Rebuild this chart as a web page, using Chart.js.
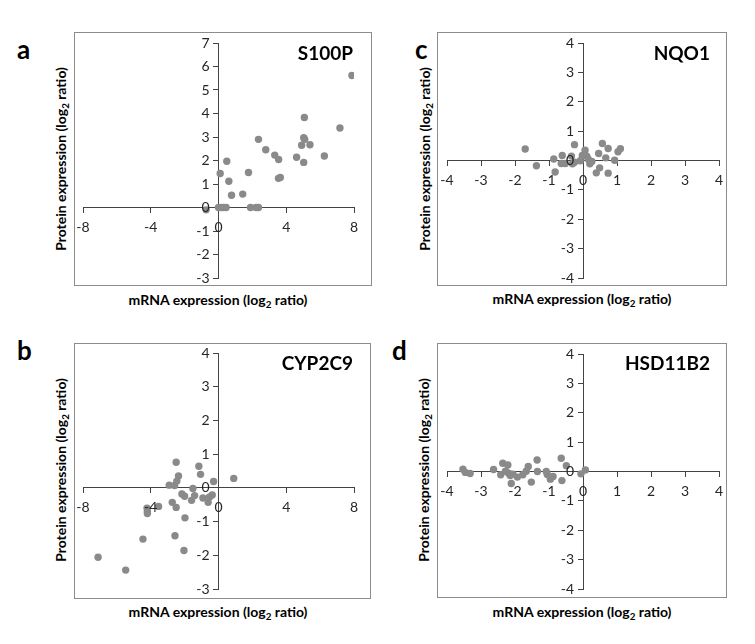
<!DOCTYPE html>
<html>
<head>
<meta charset="utf-8">
<script src="https://cdn.jsdelivr.net/npm/chart.js@4.4.0/dist/chart.umd.min.js"></script>
<style>
  body { margin: 0; background: #fff; width: 755px; height: 644px; position: relative; overflow: hidden; font-family: Lato, "Open Sans", sans-serif; color: #000; }
  .box { position: absolute; border: 1px solid #8c8c8c; box-sizing: border-box; }
  .box canvas { display: block; }
  .letter { position: absolute; font-weight: bold; font-size: 26px; line-height: 1; }
  .gene { position: absolute; font-weight: bold; font-size: 19px; line-height: 1; transform: translateY(-50%); white-space: nowrap; }
  .xt { position: absolute; font-weight: bold; font-size: 14px; white-space: nowrap; transform: translate(-50%, -50%); }
  .yt { position: absolute; font-weight: bold; font-size: 14px; white-space: nowrap; transform: translate(-50%, -50%) rotate(-90deg); }
  sub { font-size: 70%; line-height: 0; }
</style>
</head>
<body>

<div class="letter" style="left:17px;top:36px">a</div>
<div class="letter" style="left:415px;top:36px">c</div>
<div class="letter" style="left:17px;top:337px">b</div>
<div class="letter" style="left:392px;top:337px">d</div>

<div class="box" style="left:74px;top:32px;width:298px;height:254px"><canvas id="chartA" width="296" height="252"></canvas></div>
<div class="box" style="left:74px;top:343px;width:297px;height:256px"><canvas id="chartB" width="295" height="254"></canvas></div>
<div class="box" style="left:437px;top:32px;width:290px;height:254px"><canvas id="chartC" width="288" height="252"></canvas></div>
<div class="box" style="left:437px;top:343px;width:290px;height:255px"><canvas id="chartD" width="288" height="253"></canvas></div>

<div class="gene" style="right:402px;top:52px">S100P</div>
<div class="gene" style="right:45px;top:52px">NQO1</div>
<div class="gene" style="right:402px;top:362px">CYP2C9</div>
<div class="gene" style="right:45px;top:362px">HSD11B2</div>

<div class="yt" style="left:60px;top:159px">Protein expression (log<sub>2</sub> ratio)</div>
<div class="yt" style="left:424px;top:159px">Protein expression (log<sub>2</sub> ratio)</div>
<div class="yt" style="left:60px;top:470px">Protein expression (log<sub>2</sub> ratio)</div>
<div class="yt" style="left:423px;top:470px">Protein expression (log<sub>2</sub> ratio)</div>

<div class="xt" style="left:218px;top:299px">mRNA expression (log<sub>2</sub> ratio)</div>
<div class="xt" style="left:582px;top:298px">mRNA expression (log<sub>2</sub> ratio)</div>
<div class="xt" style="left:218px;top:611px">mRNA expression (log<sub>2</sub> ratio)</div>
<div class="xt" style="left:582px;top:611px">mRNA expression (log<sub>2</sub> ratio)</div>

<script>
// S100P (panel a)
const s100pMrna =    [-0.73, 0.0, 0.15, 0.3, 0.45, 0.1, 0.49, 0.61, 0.77, 1.43, 1.77, 1.89, 2.22, 2.36, 2.36, 2.79, 3.32, 3.55, 3.54, 3.65, 4.61, 4.91, 5.03, 5.07, 5.03, 5.09, 5.4, 6.25, 7.17, 7.88];
const s100pProtein = [-0.1, 0.0, 0.0, 0.0, 0.0, 1.45, 1.97, 1.12, 0.52, 0.57, 1.49, 0.0, 0.0, 0.0, 2.9, 2.46, 2.23, 2.04, 1.24, 1.28, 2.14, 2.65, 1.92, 3.83, 2.97, 2.9, 2.67, 2.19, 3.38, 5.62];

// CYP2C9 (panel b)
const cyp2c9Mrna =    [-7.11, -5.48, -4.46, -4.22, -4.2, -4.2, -3.54, -2.91, -2.73, -2.57, -2.5, -2.5, -2.59, -2.46, -2.36, -2.16, -2.0, -1.98, -2.04, -1.59, -1.51, -1.41, -1.16, -1.06, -0.92, -0.61, -0.53, -0.37, -0.29, 0.9];
const cyp2c9Protein = [-2.06, -2.44, -1.52, -0.6, -0.7, -0.76, -0.55, 0.08, -0.43, -1.42, 0.76, -0.58, 0.07, 0.2, 0.35, -0.18, -0.25, -0.89, -1.86, -0.37, -0.02, -0.23, 0.64, 0.4, -0.3, -0.43, -0.27, -0.21, 0.19, 0.28];

// NQO1 (panel c)
const nqo1Mrna =    [-1.7, -1.37, -0.86, -0.82, -0.64, -0.61, -0.52, -0.34, -0.31, -0.25, -0.25, -0.08, -0.02, 0.06, 0.11, 0.2, 0.26, 0.15, 0.39, 0.46, 0.49, 0.57, 0.67, 0.74, 0.74, 0.93, 1.03, 1.1];
const nqo1Protein = [0.39, -0.18, 0.05, -0.39, -0.1, 0.17, -0.1, 0.15, -0.11, 0.54, -0.06, -0.01, 0.17, 0.35, 0.15, -0.11, -0.03, 0.05, -0.42, 0.24, -0.25, 0.58, 0.09, 0.41, -0.43, 0.01, 0.3, 0.4];

// HSD11B2 (panel d)
const hsd11b2Mrna =    [-3.53, -3.46, -3.32, -2.63, -2.42, -2.36, -2.28, -2.21, -2.19, -2.14, -2.11, -2.06, -1.93, -1.77, -1.67, -1.61, -1.52, -1.35, -1.34, -1.08, -1.05, -0.96, -0.88, -0.64, -0.62, -0.49, -0.06, 0.07];
const hsd11b2Protein = [0.08, -0.03, -0.07, 0.07, -0.11, 0.28, 0.01, 0.22, -0.06, -0.14, -0.41, -0.09, -0.19, -0.11, 0.01, 0.17, -0.36, 0.39, 0.0, 0.0, -0.1, -0.26, -0.17, 0.45, -0.31, 0.2, -0.08, 0.05];

const axisColor = '#444444';
const labelColor = '#262626';
const pointColor = '#8a8a8a';

// tick labels sit next to the crossing axes, like the Excel original
const crossLabels = {
  id: 'crossLabels',
  afterDraw(chart) {
    const ctx = chart.ctx;
    const xs = chart.scales.x, ys = chart.scales.y;
    const x0 = xs.getPixelForValue(0), y0 = ys.getPixelForValue(0);
    ctx.save();
    ctx.fillStyle = labelColor;
    ctx.font = '14px Lato';
    ctx.textAlign = 'center';
    ctx.textBaseline = 'middle';
    xs.ticks.forEach(t => ctx.fillText(String(t.value), xs.getPixelForValue(t.value), y0 + 20));
    ctx.textAlign = 'right';
    ys.ticks.forEach(t => ctx.fillText(String(t.value), x0 - 9, ys.getPixelForValue(t.value)));
    ctx.restore();
  }
};

function makeChart(id, xs, ys, xr, yr, pad) {
  const points = xs.map((x, i) => ({ x: x, y: ys[i] }));
  const axis = (range, cross) => ({
    type: 'linear',
    min: range[0],
    max: range[1],
    position: cross,
    grid: { drawOnChartArea: false, drawTicks: true, tickLength: 5, color: axisColor, lineWidth: 1 },
    border: { display: true, color: axisColor, width: 1 },
    ticks: { stepSize: range[2], display: false }
  });
  return new Chart(document.getElementById(id), {
    type: 'scatter',
    data: {
      datasets: [{
        data: points,
        backgroundColor: pointColor,
        borderWidth: 0,
        pointRadius: 3.7
      }]
    },
    options: {
      responsive: false,
      animation: false,
      layout: { padding: pad },
      plugins: { legend: { display: false }, tooltip: { enabled: false } },
      scales: {
        x: axis(xr, { y: 0 }),
        y: axis(yr, { x: 0 })
      }
    },
    plugins: [crossLabels]
  });
}

makeChart('chartA', s100pMrna, s100pProtein, [-8, 8, 4], [-3, 7, 1], { left: 8, right: 17, top: 10, bottom: 7 });
makeChart('chartB', cyp2c9Mrna, cyp2c9Protein, [-8, 8, 4], [-3, 4, 1], { left: 8, right: 16, top: 9, bottom: 9 });
makeChart('chartC', nqo1Mrna, nqo1Protein, [-4, 4, 1], [-4, 4, 1], { left: 9, right: 7, top: 10, bottom: 7 });
makeChart('chartD', hsd11b2Mrna, hsd11b2Protein, [-4, 4, 1], [-4, 4, 1], { left: 9, right: 7, top: 10, bottom: 8 });
</script>
</body>
</html>
